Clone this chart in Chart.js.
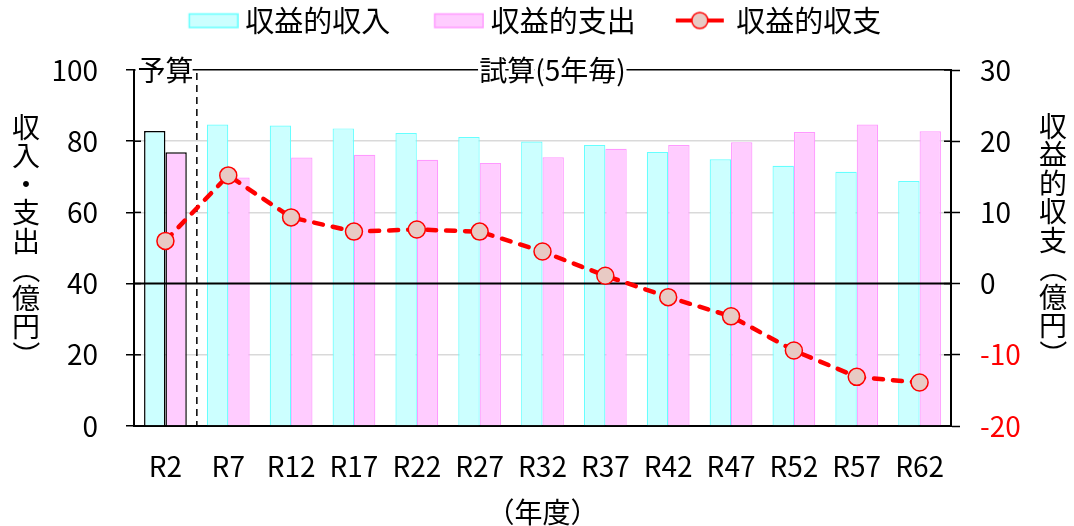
<!DOCTYPE html>
<html lang="ja">
<head>
<meta charset="utf-8">
<title>収益的収支</title>
<script src="https://cdn.jsdelivr.net/npm/chart.js@4.4.1/dist/chart.umd.min.js"></script>
<style>
  html, body { margin: 0; padding: 0; background: #fff; }
</style>
</head>
<body>
<canvas id="balanceChart" width="1074" height="526"></canvas>
<script>
const years = ['R2', 'R7', 'R12', 'R17', 'R22', 'R27', 'R32', 'R37', 'R42', 'R47', 'R52', 'R57', 'R62'];
const income = [82.9, 84.7, 84.4, 83.6, 82.3, 81.2, 79.9, 78.9, 77.0, 74.9, 73.1, 71.4, 68.8];
const expense = [76.9, 69.8, 75.4, 76.2, 74.8, 73.9, 75.5, 77.9, 78.9, 79.7, 82.6, 84.7, 82.8];
const balance = [6.0, 15.2, 9.3, 7.3, 7.6, 7.3, 4.5, 1.1, -1.9, -4.6, -9.4, -13.1, -13.9];
const leftTicks = [0, 20, 40, 60, 80, 100];
const rightTicks = [-20, -10, 0, 10, 20, 30];

const FONT = '"Noto Sans CJK JP", "Noto Sans", sans-serif';
Chart.defaults.font.family = FONT;
Chart.defaults.color = '#000';

const cyan = '#ccffff', cyanLine = '#66ffff';
const pink = '#ffccff', pinkLine = '#ff99ff';
const red = '#ff0000', dotFill = '#e8cac4';

// legend icons (canvas images, drawn centered on the legend box)
function icon(draw){
  const c = document.createElement('canvas');
  c.width = 96; c.height = 30;
  draw(c.getContext('2d'));
  return c;
}
const icons = [
  icon(g => { g.fillStyle = cyan; g.fillRect(46, 8, 49, 14); g.strokeStyle = cyanLine; g.lineWidth = 1.5; g.strokeRect(46.5, 8.5, 48.5, 13.5); }),
  icon(g => { g.fillStyle = pink; g.fillRect(46, 8, 49, 14); g.strokeStyle = pinkLine; g.lineWidth = 1.5; g.strokeRect(46.5, 8.5, 48.5, 13.5); }),
  icon(g => {
    g.strokeStyle = red; g.lineWidth = 4;
    g.beginPath(); g.moveTo(42, 15); g.lineTo(90, 15); g.stroke();
    g.beginPath(); g.arc(66, 15, 8, 0, Math.PI * 2);
    g.fillStyle = dotFill; g.fill(); g.lineWidth = 1.5; g.stroke();
  })
];

function vertText(ctx, text, x, yc, step){
  const chars = Array.from(text);
  let y = yc - step * chars.length / 2 + step / 2;
  chars.forEach(ch => {
    ctx.save();
    ctx.translate(x, y);
    if(ch === '（' || ch === '）') ctx.rotate(Math.PI / 2);
    ctx.fillText(ch, 0, 0);
    ctx.restore();
    y += step;
  });
}

function haloText(ctx, text, x, y){
  ctx.strokeStyle = '#fff'; ctx.lineWidth = 7; ctx.lineJoin = 'round';
  ctx.strokeText(text, x, y);
  ctx.fillStyle = '#000';
  ctx.fillText(text, x, y);
}

const guides = {
  id: 'guides',
  beforeLayout(chart){
    const lg = chart.legend;
    if(lg && !lg._fixedH){
      const fit = lg.fit;
      lg.fit = function(){ fit.call(this); this.height = 70; };
      lg._fixedH = true;
    }
  },
  beforeDatasetDraw(chart, args){
    if(args.index !== 2) return;
    const {ctx, chartArea: a, scales: {x, y1}} = chart;
    ctx.save();
    const y0 = y1.getPixelForValue(0);
    ctx.strokeStyle = '#000'; ctx.lineWidth = 2;
    ctx.beginPath(); ctx.moveTo(a.left, y0); ctx.lineTo(a.right, y0); ctx.stroke();
    const xs = (x.getPixelForValue(0) + x.getPixelForValue(1)) / 2;
    ctx.lineWidth = 1.5; ctx.setLineDash([7, 5]);
    ctx.beginPath(); ctx.moveTo(xs, a.top + 3); ctx.lineTo(xs, a.bottom); ctx.stroke();
    ctx.restore();
  },
  afterDraw(chart){
    const {ctx, chartArea: a, scales: {x, y, y1}} = chart;
    ctx.save();
    // inner halves of the cross tick marks
    ctx.strokeStyle = '#000'; ctx.lineWidth = 1.5;
    leftTicks.forEach(v => {
      const py = y.getPixelForValue(v);
      ctx.beginPath(); ctx.moveTo(a.left, py); ctx.lineTo(a.left + 7, py); ctx.stroke();
    });
    rightTicks.forEach(v => {
      const py = y1.getPixelForValue(v);
      ctx.beginPath(); ctx.moveTo(a.right - 7, py); ctx.lineTo(a.right, py); ctx.stroke();
    });
    ctx.font = '28px ' + FONT;
    ctx.textAlign = 'center'; ctx.textBaseline = 'middle';
    haloText(ctx, '予算', x.getPixelForValue(0), a.top);
    haloText(ctx, '試算(5年毎)', (a.left + a.right) / 2 + 10, a.top);
    ctx.fillStyle = '#000';
    vertText(ctx, '収入・支出（億円）', 26, 241, 28.5);
    vertText(ctx, '収益的収支（億円）', 1053, 240, 28.5);
    ctx.restore();
  }
};

new Chart(document.getElementById('balanceChart'), {
  type: 'bar',
  data: {
    labels: years,
    datasets: [
      {
        label: '収益的収入',
        data: income,
        backgroundColor: cyan,
        borderColor: c => c.dataIndex === 0 ? '#000' : cyanLine,
        borderWidth: c => c.dataIndex === 0 ? 1.5 : 1.2,
        categoryPercentage: 0.68,
        barPercentage: 1,
        yAxisID: 'y',
        order: 1
      },
      {
        label: '収益的支出',
        data: expense,
        backgroundColor: pink,
        borderColor: c => c.dataIndex === 0 ? '#000' : pinkLine,
        borderWidth: c => c.dataIndex === 0 ? 1.5 : 1.2,
        categoryPercentage: 0.68,
        barPercentage: 1,
        yAxisID: 'y',
        order: 1
      },
      {
        type: 'line',
        label: '収益的収支',
        data: balance,
        borderColor: red,
        borderWidth: 4.5,
        borderDash: [9, 10],
        borderCapStyle: 'round',
        tension: 0,
        pointRadius: 8.5,
        pointBackgroundColor: dotFill,
        pointBorderColor: red,
        pointBorderWidth: 1.5,
        yAxisID: 'y1',
        order: 0
      }
    ]
  },
  options: {
    responsive: false,
    animation: false,
    layout: { padding: { left: 0, right: 42, top: 0, bottom: 0 } },
    plugins: {
      tooltip: { enabled: false },
      legend: {
        display: true,
        position: 'top',
        labels: {
          usePointStyle: true,
          pointStyleWidth: 80,
          padding: 6,
          color: '#000',
          font: { size: 29 },
          sort: (a, b) => a.datasetIndex - b.datasetIndex,
          generateLabels: chart => Chart.defaults.plugins.legend.labels.generateLabels(chart)
            .map(l => ({ ...l, pointStyle: icons[l.datasetIndex], fontColor: '#000' }))
        }
      }
    },
    scales: {
      x: {
        grid: { display: false },
        border: { color: '#000', width: 2 },
        ticks: { font: { size: 28 }, color: '#000', padding: 16 },
        title: { display: true, text: '（年度）', font: { size: 28, lineHeight: 1 }, color: '#000', padding: { top: 0, bottom: 0 } },
        afterFit: s => { s.height = 100; }
      },
      y: {
        position: 'left',
        min: 0, max: 100,
        ticks: { stepSize: 20, font: { size: 28 }, color: '#000', padding: 28 },
        grid: {
          color: c => c.tick.value === 100 ? '#000' : ([20, 60, 80].includes(c.tick.value) ? '#d9d9d9' : 'rgba(0,0,0,0)'),
          lineWidth: 1.5,
          tickColor: '#000', tickLength: 8, tickWidth: 1.5
        },
        border: { color: '#000', width: 2 },
        afterFit: s => { s.width = 134; }
      },
      y1: {
        position: 'right',
        min: -20, max: 30,
        ticks: { stepSize: 10, font: { size: 28 }, color: c => c.tick.value < 0 ? red : '#000', padding: 20 },
        grid: { drawOnChartArea: false, tickColor: '#000', tickLength: 9, tickWidth: 1.5 },
        border: { color: '#000', width: 2 },
        afterFit: s => { s.width = 81; }
      }
    }
  },
  plugins: [guides]
});
</script>
</body>
</html>
